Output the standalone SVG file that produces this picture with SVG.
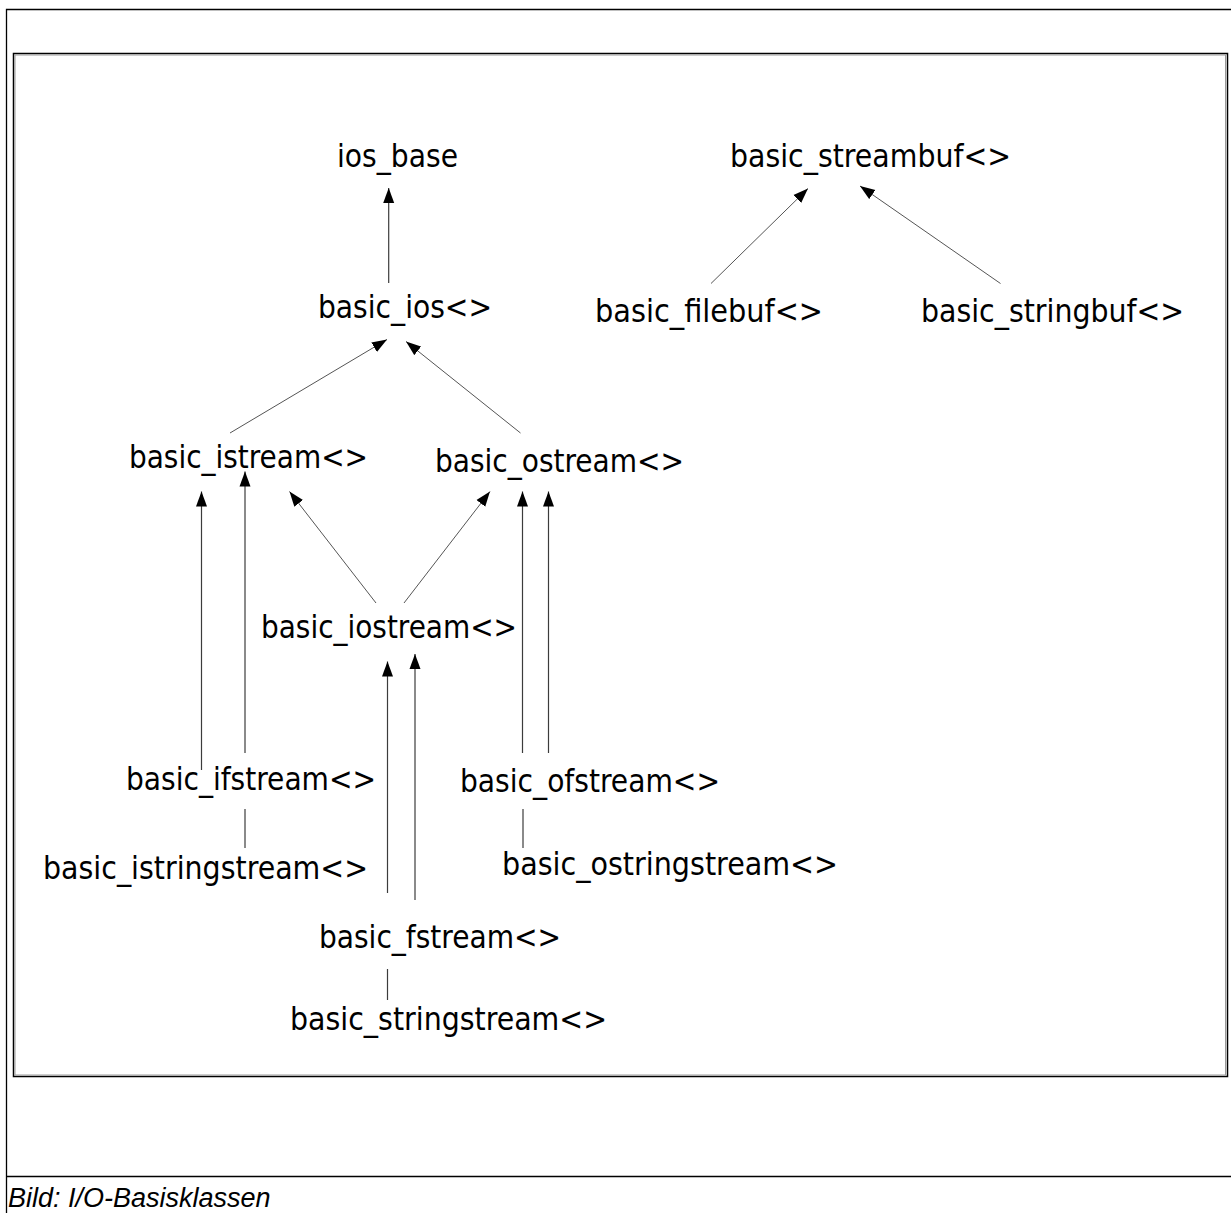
<svg xmlns="http://www.w3.org/2000/svg" width="1231" height="1213" viewBox="0 0 1231 1213">
  <defs>
    <marker id="tri" markerUnits="userSpaceOnUse" markerWidth="16" markerHeight="12" refX="15" refY="6" orient="auto">
      <path d="M0,0.5 L15,6 L0,11.5 Z" fill="#000"/>
    </marker>
    <style>
      .lbl { font-family: "DejaVu Sans Condensed", "DejaVu Sans", sans-serif; font-size: 32px; fill: #000; }
      .edge { stroke: #3c3c3c; stroke-width: 1.2; fill: none; }
      .diag { stroke: #555; stroke-width: 1; fill: none; }
      .cap { font-family: "Liberation Sans", Arial, sans-serif; font-style: italic; font-size: 27px; fill: #000; }
    </style>
  </defs>

  <rect width="1231" height="1213" fill="#fff"/>

  <!-- page frame -->
  <g id="frame" fill="none">
    <path d="M6.5,1213 V9.5 H1231" stroke="#000" stroke-width="1.3"/>
    <path d="M6.5,1176.5 H1231" stroke="#000" stroke-width="1.3"/>
    <rect x="13.5" y="53.5" width="1214" height="1023" stroke="#000" stroke-width="1.5"/>
    <rect x="15" y="55" width="1210.5" height="1020" stroke="#9a9a9a" stroke-width="1"/>
  </g>

  <!-- inheritance connectors -->
  <g id="connectors">
    <line class="edge" x1="388.7" y1="283" x2="388.7" y2="188" marker-end="url(#tri)"/>
    <line class="diag" x1="230" y1="433" x2="387" y2="339.5" marker-end="url(#tri)"/>
    <line class="diag" x1="520.5" y1="433" x2="406" y2="341.5" marker-end="url(#tri)"/>
    <line class="diag" x1="711" y1="283.5" x2="808" y2="188.5" marker-end="url(#tri)"/>
    <line class="diag" x1="1000.5" y1="283.5" x2="860" y2="186" marker-end="url(#tri)"/>
    <line class="edge" x1="201.5" y1="770" x2="201.5" y2="491.5" marker-end="url(#tri)"/>
    <line class="edge" x1="245" y1="753" x2="245" y2="471.5" marker-end="url(#tri)"/>
    <line class="diag" x1="376" y1="603" x2="289.5" y2="491.5" marker-end="url(#tri)"/>
    <line class="diag" x1="404" y1="603" x2="490" y2="491.5" marker-end="url(#tri)"/>
    <line class="edge" x1="522.5" y1="753" x2="522.5" y2="491.5" marker-end="url(#tri)"/>
    <line class="edge" x1="548.5" y1="753" x2="548.5" y2="491.5" marker-end="url(#tri)"/>
    <line class="edge" x1="387.5" y1="893" x2="387.5" y2="661.5" marker-end="url(#tri)"/>
    <line class="edge" x1="415" y1="900" x2="415" y2="654" marker-end="url(#tri)"/>
    <line class="edge" x1="245" y1="809" x2="245" y2="848"/>
    <line class="edge" x1="523" y1="809" x2="523" y2="848"/>
    <line class="edge" x1="387.5" y1="969" x2="387.5" y2="1000"/>
  </g>

  <!-- class nodes -->
  <g id="ios_base"><text class="lbl" x="337" y="167" textLength="121" lengthAdjust="spacingAndGlyphs">ios_base</text></g>
  <g id="basic_streambuf"><text class="lbl" x="730" y="167" textLength="281" lengthAdjust="spacingAndGlyphs">basic_streambuf&lt;&gt;</text></g>
  <g id="basic_ios"><text class="lbl" x="318" y="318" textLength="174" lengthAdjust="spacingAndGlyphs">basic_ios&lt;&gt;</text></g>
  <g id="basic_filebuf"><text class="lbl" x="595" y="322" textLength="228" lengthAdjust="spacingAndGlyphs">basic_filebuf&lt;&gt;</text></g>
  <g id="basic_stringbuf"><text class="lbl" x="921" y="322" textLength="263" lengthAdjust="spacingAndGlyphs">basic_stringbuf&lt;&gt;</text></g>
  <g id="basic_istream"><text class="lbl" x="129" y="468" textLength="239" lengthAdjust="spacingAndGlyphs">basic_istream&lt;&gt;</text></g>
  <g id="basic_ostream"><text class="lbl" x="435" y="472" textLength="249" lengthAdjust="spacingAndGlyphs">basic_ostream&lt;&gt;</text></g>
  <g id="basic_iostream"><text class="lbl" x="261" y="638" textLength="256" lengthAdjust="spacingAndGlyphs">basic_iostream&lt;&gt;</text></g>
  <g id="basic_ifstream"><text class="lbl" x="126" y="790" textLength="250" lengthAdjust="spacingAndGlyphs">basic_ifstream&lt;&gt;</text></g>
  <g id="basic_ofstream"><text class="lbl" x="460" y="792" textLength="260" lengthAdjust="spacingAndGlyphs">basic_ofstream&lt;&gt;</text></g>
  <g id="basic_istringstream"><text class="lbl" x="43" y="879" textLength="325" lengthAdjust="spacingAndGlyphs">basic_istringstream&lt;&gt;</text></g>
  <g id="basic_ostringstream"><text class="lbl" x="502" y="875" textLength="336" lengthAdjust="spacingAndGlyphs">basic_ostringstream&lt;&gt;</text></g>
  <g id="basic_fstream"><text class="lbl" x="319" y="948" textLength="242" lengthAdjust="spacingAndGlyphs">basic_fstream&lt;&gt;</text></g>
  <g id="basic_stringstream"><text class="lbl" x="290" y="1030" textLength="317" lengthAdjust="spacingAndGlyphs">basic_stringstream&lt;&gt;</text></g>

  <!-- caption -->
  <text class="cap" x="8" y="1207">Bild: I/O-Basisklassen</text>
</svg>
